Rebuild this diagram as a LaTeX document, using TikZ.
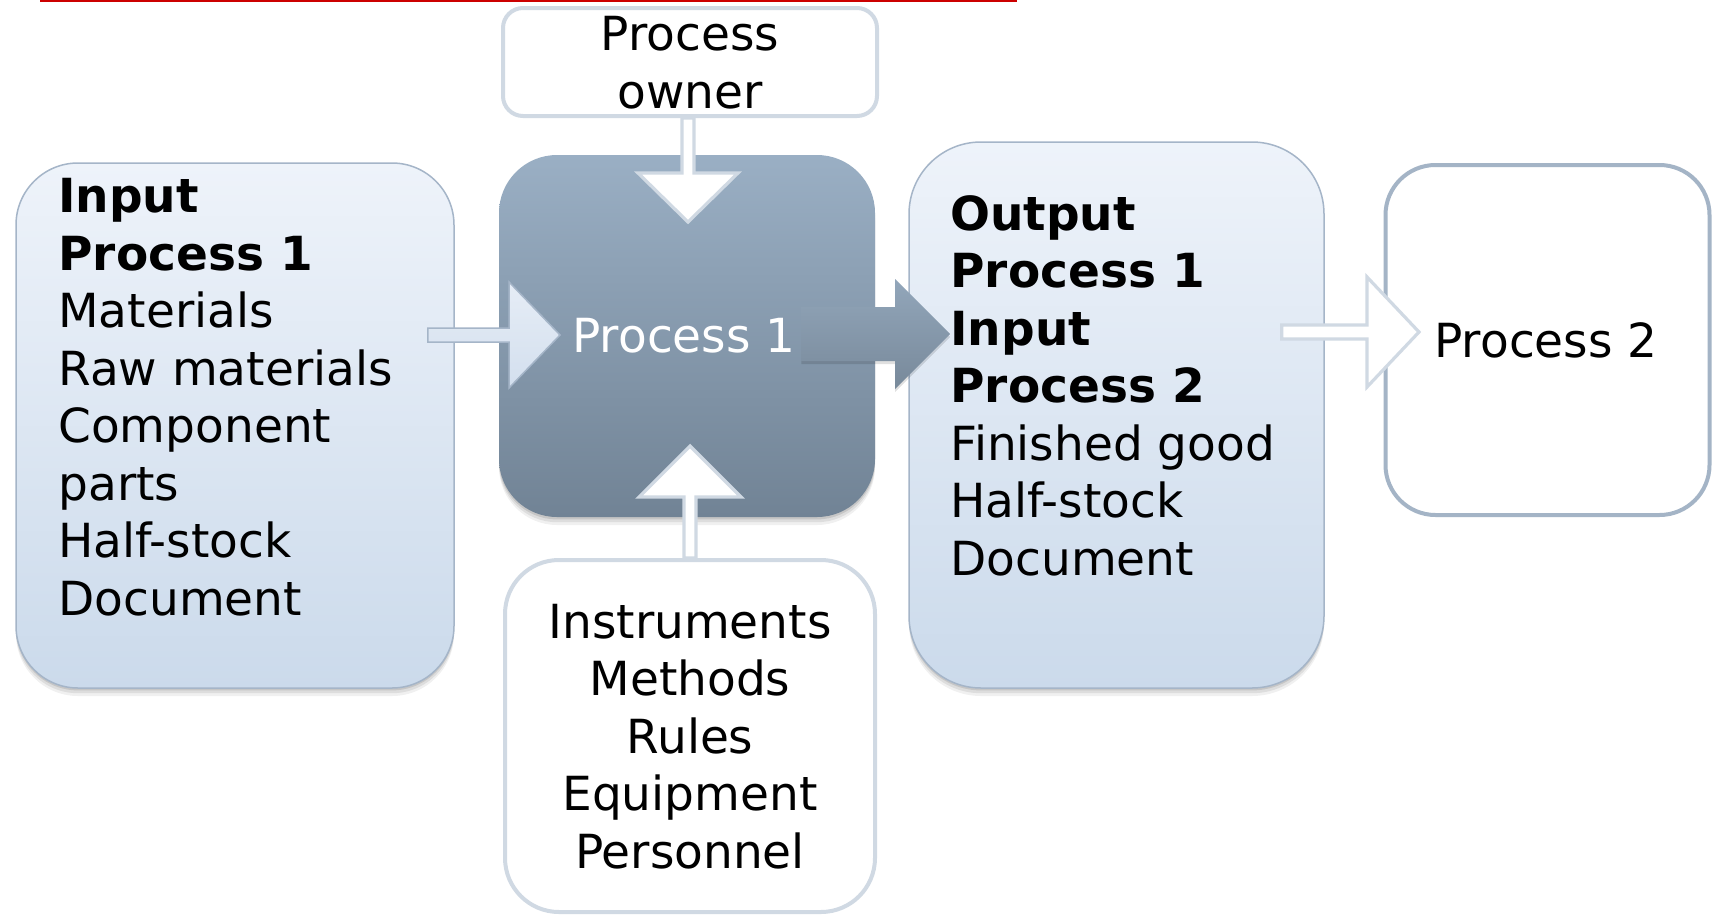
\documentclass[tikz,border=0pt]{standalone}
\usepackage{fontspec}
\setmainfont{DejaVu Sans}
\usetikzlibrary{calc,shadows}

\definecolor{redrule}{HTML}{CC0000}
\definecolor{lighttop}{HTML}{EEF3FA}
\definecolor{lightbot}{HTML}{CBDAEB}
\definecolor{boxline}{HTML}{A5B5C8}
\definecolor{proctop}{HTML}{9AAFC4}
\definecolor{procbot}{HTML}{718395}
\definecolor{paleline}{HTML}{D0D9E3}
\definecolor{greyline}{HTML}{A4B4C6}
\definecolor{bluearrowtop}{HTML}{E6EDF6}
\definecolor{bluearrowbot}{HTML}{D3DFEE}

\begin{document}
\begin{tikzpicture}[x=0.5pt,y=-0.5pt,
  txt/.style={font=\fontsize{23.5}{28.75}\selectfont, inner sep=0pt, text=black},
  softshadow/.style={
    drop shadow={shadow xshift=0pt, shadow yshift=-1.2pt, opacity=0.10, fill=black},
    drop shadow={shadow xshift=0pt, shadow yshift=-2.6pt, opacity=0.08, fill=black},
    drop shadow={shadow xshift=0pt, shadow yshift=-4.0pt, opacity=0.06, fill=black}},
  lightbox/.style={draw=boxline, line width=0.75pt, top color=lighttop,
    bottom color=lightbot, rounded corners=#1, softshadow, inner sep=0pt},
  darkbox/.style={top color=proctop, bottom color=procbot,
    rounded corners=#1, softshadow, inner sep=0pt},
  palebox/.style={draw=paleline, line width=2pt, fill=white,
    rounded corners=#1, inner sep=0pt},
  greybox/.style={draw=greyline, line width=2pt, fill=white,
    rounded corners=#1, inner sep=0pt},
  hollowarrow/.style={draw=paleline, line width=1.6pt, fill=white, line join=miter},
  bluearrow/.style={draw=boxline, line width=0.75pt, top color=bluearrowtop,
    bottom color=bluearrowbot},
  darkarrow/.style={top color=proctop!95!black, bottom color=procbot!95!white,
    drop shadow={shadow xshift=0pt, shadow yshift=-1.5pt, opacity=0.12, fill=black}}
]
\fill[white] (0,0) rectangle (1714,916);
\useasboundingbox (0,0) rectangle (1714,916);

% rule along the top edge
\draw[redrule, line width=1pt] (40,1) -- (1017,1);

% boxes
\node[palebox=10pt, minimum width=187pt, minimum height=54pt] (owner) at (690,62) {};
\node[lightbox=31pt, minimum width=219pt, minimum height=262.5pt] (inbox) at (235,425.5) {};
\node[darkbox=29pt, minimum width=188pt, minimum height=181pt] (proc) at (687,336) {};
\node[lightbox=36pt, minimum width=207.5pt, minimum height=273pt] (outbox) at (1116.5,415) {};
\node[greybox=25pt, minimum width=162pt, minimum height=175pt] (ptwo) at (1547.5,340) {};
\node[palebox=27pt, minimum width=185pt, minimum height=176pt] (tools) at (690,736) {};

% arrow tips and tails
\coordinate (tA) at (688,222);
\coordinate (tB) at (690,446);
\coordinate (tC) at (560,335);
\coordinate (sC) at ($(inbox.east |- tC)+(-27,0)$);
\coordinate (tD) at (950,334);
\coordinate (sD) at ($(proc.east |- tD)+(-74,0)$);
\coordinate (tE) at (1419,332);
\coordinate (sE) at ($(outbox.east |- tE)+(-43,0)$);

% process owner -> process 1
\draw[hollowarrow] ($(tA |- owner.south)+(-6,0)$) -- ($(tA)+(-6,-49)$) -- ($(tA)+(-50,-49)$)
  -- (tA) -- ($(tA)+(50,-49)$) -- ($(tA)+(6,-49)$) -- ($(tA |- owner.south)+(6,0)$) -- cycle;
% resources -> process 1
\draw[hollowarrow] ($(tB |- tools.north)+(-6,0)$) -- ($(tB)+(-6,51)$) -- ($(tB)+(-51,51)$)
  -- (tB) -- ($(tB)+(51,51)$) -- ($(tB)+(6,51)$) -- ($(tB |- tools.north)+(6,0)$) -- cycle;
% input -> process 1
\draw[bluearrow] ($(sC)+(0,-7)$) -- ($(tC)+(-51,-7)$) -- ($(tC)+(-51,-53)$) -- (tC)
  -- ($(tC)+(-51,53)$) -- ($(tC)+(-51,7)$) -- ($(sC)+(0,7)$) -- cycle;
% process 1 -> output
\path[darkarrow] ($(sD)+(0,-27)$) -- ($(tD)+(-55,-27)$) -- ($(tD)+(-55,-55)$) -- (tD)
  -- ($(tD)+(-55,55)$) -- ($(tD)+(-55,27)$) -- ($(sD)+(0,27)$) -- cycle;
% output -> process 2
\draw[hollowarrow] ($(sE)+(0,-7)$) -- ($(tE)+(-52,-7)$) -- ($(tE)+(-52,-55)$) -- (tE)
  -- ($(tE)+(-52,55)$) -- ($(tE)+(-52,7)$) -- ($(sE)+(0,7)$) -- cycle;

% texts (base anchor sits on the last line)
\node[txt, align=center, anchor=base] (ownertxt) at (690,108) {Process\\owner};
\node[txt, align=left, anchor=base west] (intxt) at (58,615)
  {\textbf{Input}\\\textbf{Process 1}\\Materials\\Raw materials\\Component\\parts\\Half-stock\\Document};
\node[txt, text=white, anchor=base] (proctxt) at (684,352) {Process 1};
\node[txt, align=left, anchor=base west] (outtxt) at (950,575)
  {\textbf{Output}\\\textbf{Process 1}\\\textbf{Input}\\\textbf{Process 2}\\Finished good\\Half-stock\\Document};
\node[txt, anchor=base] (ptwotxt) at (1546,357) {Process 2};
\node[txt, align=center, anchor=base] (toolstxt) at (690,868)
  {Instruments\\Methods\\Rules\\Equipment\\Personnel};
\end{tikzpicture}
\end{document}
